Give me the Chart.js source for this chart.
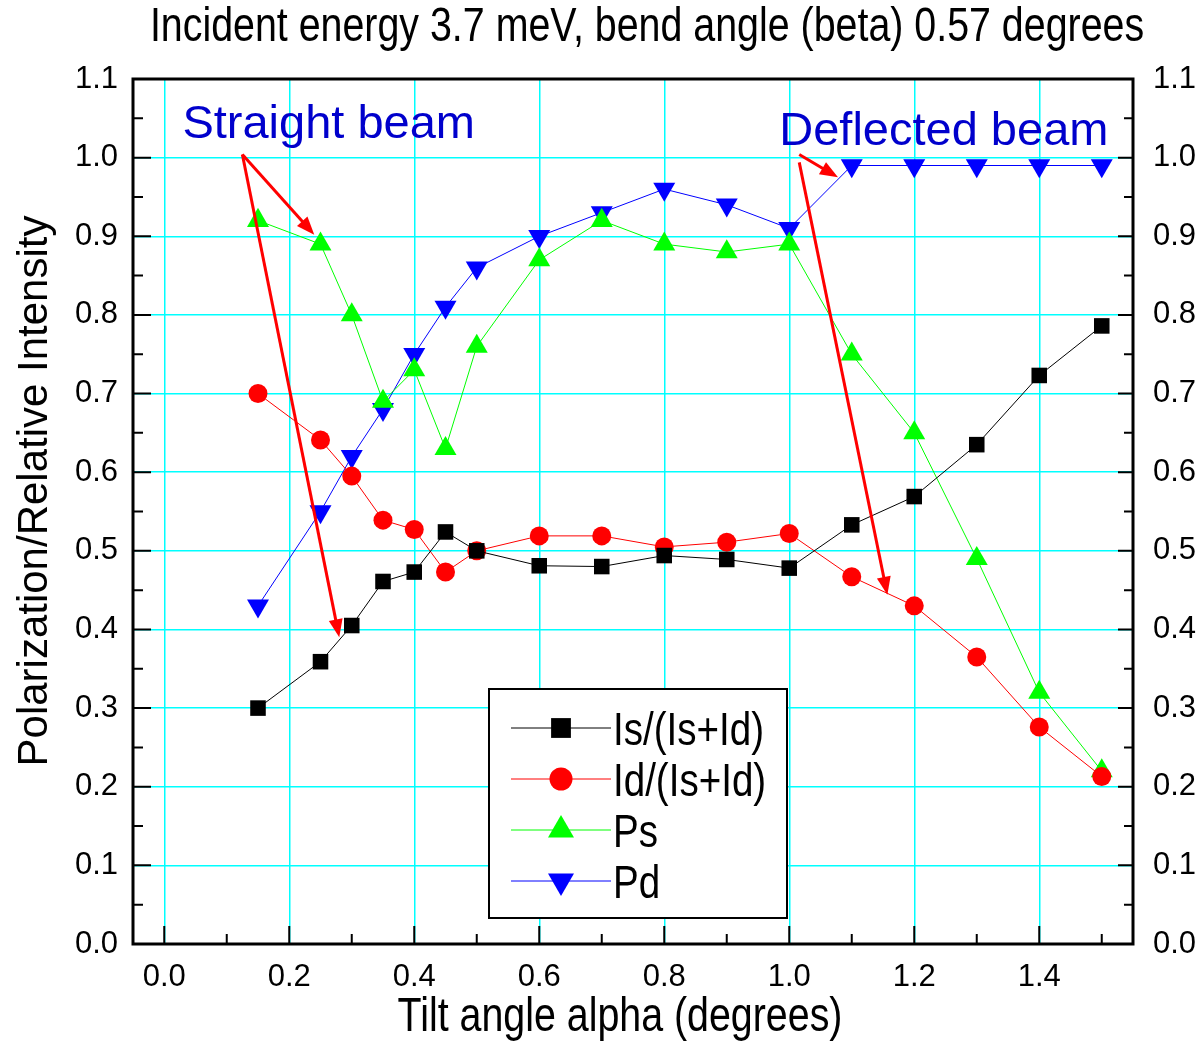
<!DOCTYPE html>
<html>
<head>
<meta charset="utf-8">
<script src="https://cdn.jsdelivr.net/npm/chart.js@4.4.1/dist/chart.umd.min.js"></script>
<style>
  html, body { margin: 0; padding: 0; background: #fff; }
</style>
</head>
<body>
<canvas id="chart" width="1200" height="1044"></canvas>
<script>
// Values
const tiltAngle = [0.15, 0.25, 0.30, 0.35, 0.40, 0.45, 0.50, 0.60, 0.70, 0.80, 0.90, 1.00, 1.10, 1.20, 1.30, 1.40, 1.50];
const isRatio   = [0.300, 0.359, 0.405, 0.461, 0.473, 0.524, 0.500, 0.481, 0.480, 0.494, 0.489, 0.478, 0.533, 0.569, 0.635, 0.723, 0.786];
const idRatio   = [0.700, 0.641, 0.595, 0.539, 0.527, 0.473, 0.500, 0.519, 0.519, 0.505, 0.511, 0.522, 0.467, 0.430, 0.365, 0.276, 0.213];
const psPol     = [0.92, 0.89, 0.80, 0.69, 0.73, 0.63, 0.76, 0.87, 0.92, 0.89, 0.88, 0.89, 0.75, 0.65, 0.49, 0.32, 0.22];
const pdPol     = [0.43, 0.55, 0.62, 0.68, 0.75, 0.81, 0.86, 0.90, 0.93, 0.96, 0.94, 0.91, 0.99, 0.99, 0.99, 0.99, 0.99];

const xTicks = [0.0, 0.2, 0.4, 0.6, 0.8, 1.0, 1.2, 1.4];
const yTicks = [0.0, 0.1, 0.2, 0.3, 0.4, 0.5, 0.6, 0.7, 0.8, 0.9, 1.0, 1.1];

const chartTitle = 'Incident energy 3.7 meV, bend angle (beta) 0.57 degrees';
const xTitle = 'Tilt angle alpha (degrees)';
const yTitle = 'Polarization/Relative Intensity';

// red arrows, in data units (from -> to)
const arrowFromX = [0.125, 0.125, 1.016, 1.016];
const arrowFromY = [1.004, 1.004, 1.004, 0.994];
const arrowToX   = [0.240, 0.280, 1.078, 1.157];
const arrowToY   = [0.902, 0.390, 0.975, 0.444];

// blue labels, in data units (left, baseline)
const noteText = ['Straight beam', 'Deflected beam'];
const noteX    = [0.029, 0.984];
const noteY    = [1.025, 1.0165];

const SANS = '"Liberation Sans", Arial, sans-serif';
const GRID = '#00ffff';
const NARROW = 0.82; // no narrow face installed, so squeeze Liberation Sans

const pts = ys => tiltAngle.map((x, i) => ({ x, y: ys[i] }));

function series(label, ys, color, style, radius, rotation = 0) {
  return {
    label,
    data: pts(ys),
    showLine: true,
    borderColor: color,
    borderWidth: 1,
    backgroundColor: color,
    pointBackgroundColor: color,
    pointBorderColor: color,
    pointBorderWidth: 0,
    pointStyle: style,
    pointRadius: radius,
    pointRotation: rotation,
    pointHoverRadius: radius,
  };
}

function narrowText(ctx, text, x, y, size, align) {
  ctx.save();
  ctx.font = size + 'px ' + SANS;
  ctx.textAlign = align;
  ctx.translate(x, y);
  ctx.scale(NARROW, 1);
  ctx.fillText(text, 0, 0);
  ctx.restore();
}

// inward tick marks + the black frame
const frameTicks = {
  id: 'frameTicks',
  beforeDatasetsDraw(chart) {
    const { ctx, chartArea: a, scales: { x, y } } = chart;
    ctx.save();
    ctx.strokeStyle = '#000';
    ctx.lineWidth = 2;
    ctx.beginPath();
    yTicks.forEach((v, i) => {
      const py = y.getPixelForValue(v);
      ctx.moveTo(a.left, py);  ctx.lineTo(a.left + 18, py);
      ctx.moveTo(a.right, py); ctx.lineTo(a.right - 15, py);
      if (i < yTicks.length - 1) {
        const pm = y.getPixelForValue(v + 0.05);
        ctx.moveTo(a.left, pm);  ctx.lineTo(a.left + 10, pm);
        ctx.moveTo(a.right, pm); ctx.lineTo(a.right - 9, pm);
      }
    });
    xTicks.forEach(v => {
      const px = x.getPixelForValue(v);
      ctx.moveTo(px, a.bottom); ctx.lineTo(px, a.bottom - 18);
      const pm = x.getPixelForValue(v + 0.1);
      ctx.moveTo(pm, a.bottom); ctx.lineTo(pm, a.bottom - 10);
    });
    ctx.stroke();
    ctx.lineWidth = 3;
    ctx.strokeRect(a.left, a.top, a.right - a.left, a.bottom - a.top);
    ctx.restore();
  },
};

// arrows, blue notes, boxed legend and the three titles
const overlays = {
  id: 'overlays',
  afterDatasetsDraw(chart) {
    const { ctx, chartArea: a, scales: { x, y } } = chart;
    ctx.save();

    ctx.strokeStyle = '#ff0000';
    ctx.fillStyle = '#ff0000';
    ctx.lineWidth = 3;
    arrowFromX.forEach((fx, i) => {
      const x0 = x.getPixelForValue(fx), y0 = y.getPixelForValue(arrowFromY[i]);
      const x1 = x.getPixelForValue(arrowToX[i]), y1 = y.getPixelForValue(arrowToY[i]);
      const ang = Math.atan2(y1 - y0, x1 - x0);
      const head = 18, half = 7;
      ctx.beginPath();
      ctx.moveTo(x0, y0);
      ctx.lineTo(x1 - Math.cos(ang) * (head - 2), y1 - Math.sin(ang) * (head - 2));
      ctx.stroke();
      ctx.beginPath();
      ctx.moveTo(x1, y1);
      ctx.lineTo(x1 - Math.cos(ang) * head - Math.sin(ang) * half, y1 - Math.sin(ang) * head + Math.cos(ang) * half);
      ctx.lineTo(x1 - Math.cos(ang) * head + Math.sin(ang) * half, y1 - Math.sin(ang) * head - Math.cos(ang) * half);
      ctx.closePath();
      ctx.fill();
    });

    ctx.fillStyle = '#0000cc';
    ctx.font = '47px ' + SANS;
    ctx.textBaseline = 'alphabetic';
    ctx.textAlign = 'left';
    noteText.forEach((t, i) => ctx.fillText(t, x.getPixelForValue(noteX[i]), y.getPixelForValue(noteY[i])));

    // legend box
    const bx = a.left + 356, by = a.top + 610, bw = 298, bh = 229;
    ctx.fillStyle = '#fff';
    ctx.fillRect(bx, by, bw, bh);
    ctx.strokeStyle = '#000';
    ctx.lineWidth = 2;
    ctx.strokeRect(bx, by, bw, bh);
    const legendRadius = [14, 11.5, 15, 15];
    chart.data.datasets.forEach((ds, i) => {
      const ry = by + 39 + i * 51;
      ctx.strokeStyle = ds.borderColor;
      ctx.lineWidth = 1;
      ctx.beginPath();
      ctx.moveTo(bx + 22, ry); ctx.lineTo(bx + 122, ry);
      ctx.stroke();
      ctx.fillStyle = ds.pointBackgroundColor;
      Chart.helpers.drawPoint(ctx, {
        pointStyle: ds.pointStyle, rotation: ds.pointRotation,
        radius: legendRadius[i], borderWidth: 0,
      }, bx + 72, ry);
      ctx.fillStyle = '#000';
      ctx.textBaseline = 'alphabetic';
      narrowText(ctx, ds.label, bx + 124, ry + 17, 47, 'left');
    });

    // titles
    ctx.fillStyle = '#000';
    ctx.textBaseline = 'alphabetic';
    narrowText(ctx, chartTitle, 647, 41, 48, 'center');
    narrowText(ctx, xTitle, 620, 1031, 48, 'center');

    ctx.save();
    ctx.font = '42px ' + SANS;
    ctx.textAlign = 'center';
    ctx.translate(47, 491);
    ctx.rotate(-Math.PI / 2);
    ctx.fillText(yTitle, 0, 0);
    ctx.restore();

    ctx.restore();
  },
};

const tickFont = { family: SANS, size: 31 };

new Chart(document.getElementById('chart'), {
  type: 'scatter',
  data: {
    datasets: [
      series('Is/(Is+Id)', isRatio, '#000000', 'rect', 11),
      series('Id/(Is+Id)', idRatio, '#ff0000', 'circle', 9.5),
      series('Ps', psPol, '#00ff00', 'triangle', 12.7),
      series('Pd', pdPol, '#0000ff', 'triangle', 12.7, 180),
    ],
  },
  options: {
    responsive: false,
    animation: false,
    layout: { padding: { top: 79 } },
    plugins: {
      legend: { display: false },
      tooltip: { enabled: false },
      title: { display: false },
    },
    scales: {
      x: {
        type: 'linear',
        min: -0.05,
        max: 1.55,
        afterBuildTicks: s => { s.ticks = xTicks.map(v => ({ value: v })); },
        afterFit: s => { s.height = 100; },
        grid: { color: GRID, lineWidth: 1.5, drawTicks: false },
        border: { display: false },
        ticks: { color: '#000', font: tickFont, padding: 15, callback: v => v.toFixed(1) },
      },
      y: {
        position: 'left',
        min: 0,
        max: 1.1,
        afterBuildTicks: s => { s.ticks = yTicks.map(v => ({ value: v })); },
        afterFit: s => { s.width = 133; },
        grid: { color: GRID, lineWidth: 1.5, drawTicks: false },
        border: { display: false },
        ticks: { color: '#000', font: tickFont, padding: 15, callback: v => v.toFixed(1) },
      },
      y2: {
        position: 'right',
        min: 0,
        max: 1.1,
        afterBuildTicks: s => { s.ticks = yTicks.map(v => ({ value: v })); },
        afterFit: s => { s.width = 67; },
        grid: { display: false, drawTicks: false },
        border: { display: false },
        ticks: { color: '#000', font: tickFont, padding: 20, callback: v => v.toFixed(1) },
      },
    },
  },
  plugins: [frameTicks, overlays],
});
</script>
</body>
</html>
